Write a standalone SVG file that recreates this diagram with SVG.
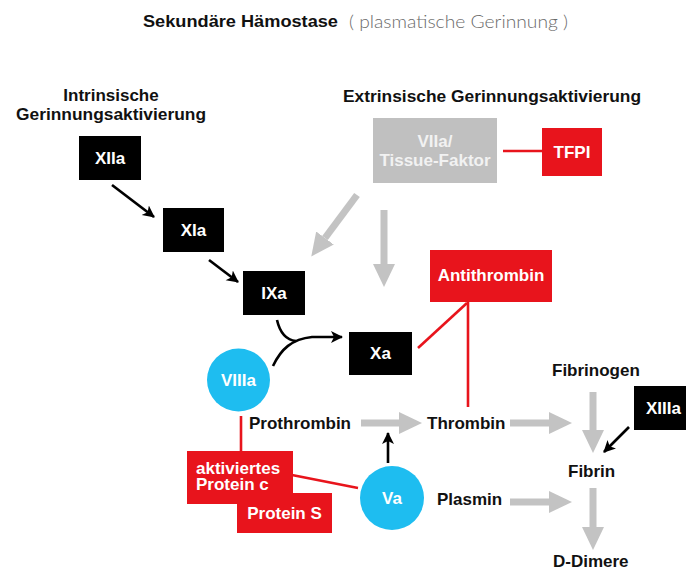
<svg xmlns="http://www.w3.org/2000/svg" width="686" height="572" viewBox="0 0 686 572">
  <style>
    text { font-family: "Liberation Sans", Arial, Helvetica, sans-serif; font-weight: bold; font-size: 17px; }
    .lbl { fill: #111; }
    .wt { fill: #fff; text-anchor: middle; }
    .blk { fill: #000; }
    .red { fill: #e8141c; }
    .cyan { fill: #1ebdf0; }
    .gbox { fill: #c0c0c0; }
    .gray { stroke: #c3c3c3; stroke-width: 7; fill: none; marker-end: url(#gh); }
    .dark { stroke: #000; stroke-width: 2.6; fill: none; }
    .inh { stroke: #e8141c; stroke-width: 2.6; fill: none; }
  </style>
  <defs>
    <marker id="gh" markerUnits="userSpaceOnUse" markerWidth="24" markerHeight="24" refX="0" refY="11" orient="auto">
      <path d="M0,0 L23,11 L0,22 z" fill="#c3c3c3"/>
    </marker>
    <marker id="bh" markerUnits="userSpaceOnUse" markerWidth="14" markerHeight="14" refX="11" refY="6" orient="auto">
      <path d="M0,0 L12,6 L0,12 L3,6 z" fill="#000"/>
    </marker>
  </defs>

  <rect width="686" height="572" fill="#fff"/>

  <!-- headings -->
  <text x="143" y="27" class="lbl" font-size="18" textLength="195" lengthAdjust="spacingAndGlyphs">Sekundäre Hämostase</text>
  <text x="349" y="28" font-size="18" textLength="219" lengthAdjust="spacingAndGlyphs" style="font-family:Lato,'Liberation Sans',sans-serif;font-weight:300;fill:#6a6a6a">( plasmatische Gerinnung )</text>
  <text x="111" y="101" class="lbl" text-anchor="middle">Intrinsische</text>
  <text x="111" y="120" class="lbl" text-anchor="middle" textLength="190" lengthAdjust="spacingAndGlyphs">Gerinnungsaktivierung</text>
  <text x="343" y="102" class="lbl" textLength="298" lengthAdjust="spacingAndGlyphs">Extrinsische Gerinnungsaktivierung</text>

  <!-- connectors -->
  <g id="connectors">
    <line x1="112" y1="185" x2="154" y2="217" class="dark" marker-end="url(#bh)"/>
    <line x1="209" y1="260" x2="238" y2="282" class="dark" marker-end="url(#bh)"/>
    <path d="M277,320 C280,333 286,340 296,341" class="dark"/>
    <path d="M273,366 C281,349 292,339 312,337 L342,337" class="dark" marker-end="url(#bh)"/>
    <line x1="357" y1="195" x2="325" y2="238" class="gray"/>
    <line x1="384" y1="210" x2="384" y2="264" class="gray"/>
    <line x1="503" y1="151" x2="542" y2="151" class="inh"/>
    <line x1="467" y1="303" x2="418" y2="348" class="inh"/>
    <line x1="468" y1="302" x2="468" y2="407" class="inh"/>
    <line x1="361" y1="423" x2="399" y2="423" class="gray"/>
    <line x1="510" y1="423" x2="549" y2="423" class="gray"/>
    <line x1="510" y1="502" x2="549" y2="502" class="gray"/>
    <line x1="593" y1="392" x2="593" y2="430" class="gray"/>
    <line x1="593" y1="488" x2="593" y2="527" class="gray"/>
    <line x1="629" y1="427" x2="604" y2="452" class="dark" marker-end="url(#bh)"/>
    <line x1="388" y1="463" x2="388" y2="433" class="dark" marker-end="url(#bh)"/>
    <line x1="241" y1="416" x2="241" y2="452" class="inh"/>
    <line x1="292" y1="475" x2="358" y2="488" class="inh"/>
  </g>

  <!-- nodes -->
  <g id="XIIa"><rect x="79" y="136" width="62" height="44" class="blk"/><text x="110" y="164" class="wt">XIIa</text></g>
  <g id="XIa"><rect x="163" y="208" width="61" height="44" class="blk"/><text x="193.5" y="236" class="wt">XIa</text></g>
  <g id="IXa"><rect x="243" y="271" width="62" height="44" class="blk"/><text x="274" y="299" class="wt">IXa</text></g>
  <g id="Xa"><rect x="349" y="332" width="63" height="43" class="blk"/><text x="380.5" y="359" class="wt">Xa</text></g>
  <g id="XIIIa"><rect x="634" y="386" width="60" height="44" class="blk"/><text x="663.5" y="414" class="wt">XIIIa</text></g>

  <g id="VIIa-TF">
    <rect x="373" y="118" width="124" height="65" class="gbox"/>
    <text x="435" y="147" class="wt" style="fill:#f2f2f2">VIIa/</text>
    <text x="435" y="166" class="wt" style="fill:#f2f2f2">Tissue-Faktor</text>
  </g>
  <g id="TFPI"><rect x="542" y="128" width="60" height="48" class="red"/><text x="572" y="158" class="wt">TFPI</text></g>
  <g id="Antithrombin"><rect x="430" y="250" width="122" height="52" class="red"/><text x="491" y="281" class="wt">Antithrombin</text></g>

  <g id="VIIIa"><circle cx="238.5" cy="380" r="31.5" class="cyan"/><text x="238.5" y="386" class="wt">VIIIa</text></g>
  <g id="Va"><circle cx="392" cy="498" r="32" class="cyan"/><text x="392" y="504" class="wt">Va</text></g>

  <g id="APC"><rect x="187" y="451" width="106" height="53" class="red"/>
    <text x="196" y="474" font-size="16.5" style="fill:#fff">aktiviertes</text>
    <text x="196" y="490" font-size="16.5" style="fill:#fff">Protein c</text>
  </g>
  <g id="ProteinS"><rect x="237" y="493" width="95" height="40" class="red"/><text x="284.5" y="519" class="wt">Protein S</text></g>

  <g id="Prothrombin"><text x="249" y="429" class="lbl">Prothrombin</text></g>
  <g id="Thrombin"><text x="427" y="429" class="lbl">Thrombin</text></g>
  <g id="Plasmin"><text x="437" y="505" class="lbl">Plasmin</text></g>
  <g id="Fibrinogen"><text x="552" y="376" class="lbl">Fibrinogen</text></g>
  <g id="Fibrin"><text x="568" y="477" class="lbl">Fibrin</text></g>
  <g id="D-Dimere"><text x="553" y="567" class="lbl">D-Dimere</text></g>
</svg>
